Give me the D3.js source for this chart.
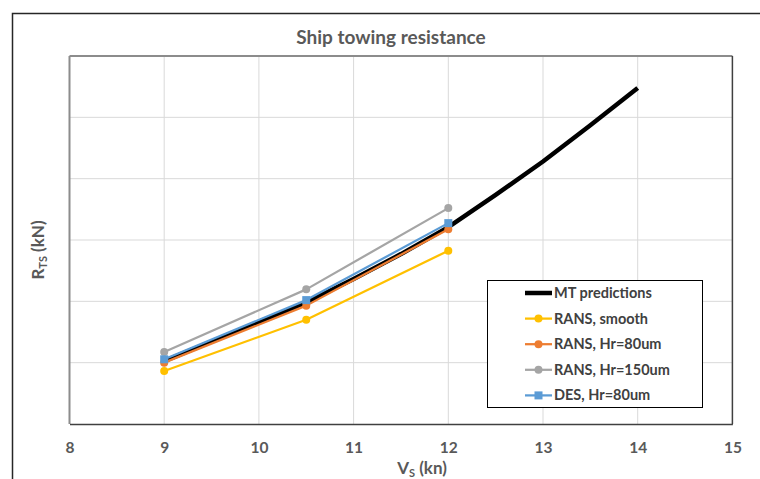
<!DOCTYPE html>
<html>
<head>
<meta charset="utf-8">
<script src="https://cdn.jsdelivr.net/npm/d3@7/dist/d3.min.js"></script>
<style>
  html, body { margin: 0; padding: 0; background: #fff; }
  svg { display: block; font-family: Lato, "Open Sans", sans-serif; }
</style>
</head>
<body>
<svg id="chart" width="760" height="479"></svg>
<script>
// Ship speed (kn) and total towing resistance R_TS (kN)
const mtSpeed   = [9, 9.5, 10, 10.5, 11, 11.5, 12, 12.5, 13, 13.5, 14];
const mtRes     = [205, 269, 333, 396, 473, 554, 642, 747, 856, 974, 1096];

const cfdSpeed  = [9, 10.5, 12];
const ransSmooth = [173, 340, 565];
const rans80     = [200, 386, 635];
const rans150    = [235, 439, 704];
const des80      = [211, 404, 655];

const xTicks = [8, 9, 10, 11, 12, 13, 14, 15];
const yTicks = [0, 200, 400, 600, 800, 1000, 1200];

const series = [
  { name: "MT predictions",     xs: mtSpeed,  ys: mtRes,      color: "#000000", width: 4.5,  marker: null },
  { name: "RANS, smooth",       xs: cfdSpeed, ys: ransSmooth, color: "#FFC000", width: 2.25, marker: "circle" },
  { name: "RANS, Hr=80um",      xs: cfdSpeed, ys: rans80,     color: "#ED7D31", width: 2.25, marker: "circle" },
  { name: "RANS, Hr=150um",     xs: cfdSpeed, ys: rans150,    color: "#A5A5A5", width: 2.25, marker: "circle" },
  { name: "DES, Hr=80um",       xs: cfdSpeed, ys: des80,      color: "#5B9BD5", width: 2.25, marker: "square" }
];

const svg = d3.select("#chart");
const plot = { left: 69.5, right: 732.4, top: 56, bottom: 424 };

const x = d3.scaleLinear().domain([8, 15]).range([plot.left, plot.right]);
const y = d3.scaleLinear().domain([0, 1200]).range([plot.bottom, plot.top]);

// outer chart frame
svg.append("rect")
  .attr("x", 12.5).attr("y", 13.5)
  .attr("width", 780).attr("height", 500)
  .attr("fill", "none").attr("stroke", "#262626").attr("stroke-width", 1.5);

// title
svg.append("text")
  .attr("x", 391).attr("y", 44)
  .attr("text-anchor", "middle")
  .attr("font-size", 19).attr("font-weight", 700)
  .attr("fill", "#595959")
  .text("Ship towing resistance");

// gridlines
const grid = svg.append("g");
grid.selectAll("line.v").data(xTicks.slice(1, -1)).join("line")
  .attr("x1", d => x(d)).attr("x2", d => x(d))
  .attr("y1", plot.top).attr("y2", plot.bottom)
  .attr("stroke", "#d9d9d9").attr("stroke-width", 1);
grid.selectAll("line.h").data(yTicks.slice(1, -1)).join("line")
  .attr("x1", plot.left).attr("x2", plot.right)
  .attr("y1", d => y(d)).attr("y2", d => y(d))
  .attr("stroke", "#d9d9d9").attr("stroke-width", 1);

// plot area border: light top/left, darker right/bottom
svg.append("line").attr("x1", plot.left).attr("x2", plot.right)
  .attr("y1", plot.top).attr("y2", plot.top)
  .attr("stroke", "#8c8c8c").attr("stroke-width", 2);
svg.append("line").attr("x1", plot.left).attr("x2", plot.left)
  .attr("y1", plot.top).attr("y2", plot.bottom)
  .attr("stroke", "#8c8c8c").attr("stroke-width", 2);
svg.append("line").attr("x1", plot.right).attr("x2", plot.right)
  .attr("y1", plot.top).attr("y2", plot.bottom)
  .attr("stroke", "#404040").attr("stroke-width", 1.5);

// x axis
const xAxis = d3.axisBottom(x).tickValues(xTicks).tickSize(0).tickPadding(18).tickFormat(d3.format("d"));
const gx = svg.append("g").attr("transform", `translate(0,${plot.bottom})`).call(xAxis);
gx.select(".domain").attr("stroke", "#404040").attr("stroke-width", 1.5);
gx.selectAll("text")
  .attr("font-size", 15.5).attr("font-weight", 700)
  .attr("fill", "#595959")
  .attr("font-family", "Lato, sans-serif");

// axis titles
const xt = svg.append("text")
  .attr("x", 422).attr("y", 474)
  .attr("text-anchor", "middle")
  .attr("font-size", 17).attr("font-weight", 700).attr("fill", "#595959");
xt.append("tspan").text("V");
xt.append("tspan").attr("font-size", 11).attr("dy", 3).text("S");
xt.append("tspan").attr("dy", -3).text(" (kn)");

const yt = svg.append("text")
  .attr("transform", "translate(44,250) rotate(-90)")
  .attr("text-anchor", "middle")
  .attr("font-size", 17).attr("font-weight", 700).attr("fill", "#595959");
yt.append("tspan").text("R");
yt.append("tspan").attr("font-size", 11).attr("dy", 3).text("TS");
yt.append("tspan").attr("dy", -3).text(" (kN)");

// series
const line = d3.line().x(d => x(d[0])).y(d => y(d[1]));
const gs = svg.append("g");
series.forEach(s => {
  const pts = s.xs.map((v, i) => [v, s.ys[i]]);
  gs.append("path")
    .datum(pts)
    .attr("d", line)
    .attr("fill", "none")
    .attr("stroke", s.color)
    .attr("stroke-width", s.width)
    .attr("stroke-linejoin", "round");
  if (s.marker === "circle") {
    gs.selectAll(null).data(pts).join("circle")
      .attr("cx", d => x(d[0])).attr("cy", d => y(d[1]))
      .attr("r", 4).attr("fill", s.color);
  } else if (s.marker === "square") {
    gs.selectAll(null).data(pts).join("rect")
      .attr("x", d => x(d[0]) - 4).attr("y", d => y(d[1]) - 4)
      .attr("width", 8).attr("height", 8).attr("fill", s.color);
  }
});

// legend
const lg = svg.append("g");
lg.append("rect")
  .attr("x", 487.5).attr("y", 280.5)
  .attr("width", 215).attr("height", 127)
  .attr("fill", "#fff").attr("stroke", "#000").attr("stroke-width", 1);
series.forEach((s, i) => {
  const yy = 293 + i * 25.6;
  lg.append("line")
    .attr("x1", 525).attr("x2", 552)
    .attr("y1", yy).attr("y2", yy)
    .attr("stroke", s.color).attr("stroke-width", s.width);
  if (s.marker === "circle") {
    lg.append("circle").attr("cx", 538.5).attr("cy", yy).attr("r", 4).attr("fill", s.color);
  } else if (s.marker === "square") {
    lg.append("rect").attr("x", 534.5).attr("y", yy - 4).attr("width", 8).attr("height", 8).attr("fill", s.color);
  }
  lg.append("text")
    .attr("x", 554).attr("y", yy + 5)
    .attr("font-size", 14.5).attr("font-weight", 700)
    .attr("fill", "#404040")
    .text(s.name);
});
</script>
</body>
</html>
